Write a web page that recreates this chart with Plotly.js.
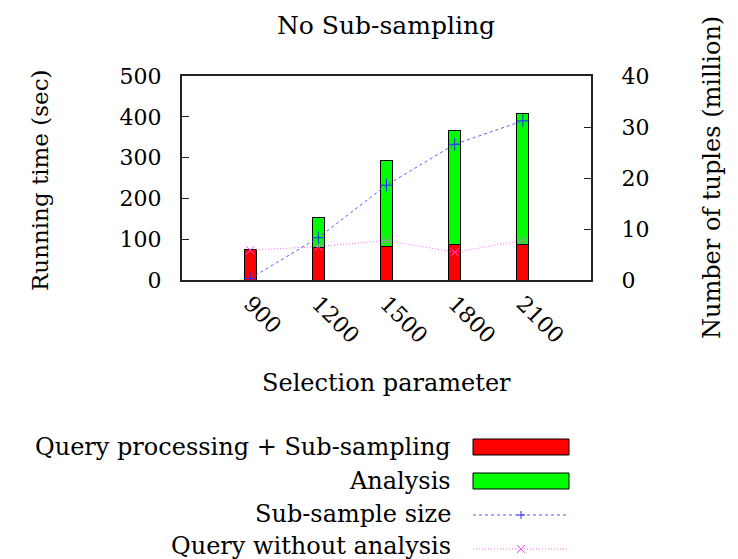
<!DOCTYPE html>
<html>
<head>
<meta charset="utf-8">
<script src="https://cdn.plot.ly/plotly-3.0.1.min.js"></script>
<style>html,body{margin:0;padding:0;background:#fff;}#chart{width:738px;height:559px;}</style>
</head>
<body>
<div id="chart"></div>
<script>
// ---- data ----
const categories = ["900", "1200", "1500", "1800", "2100"];
const queryProcessing = [75, 79, 83, 88, 88];       // sec (red)
const analysis = [0, 74, 211, 279, 320];             // sec (green, stacked)
const subSampleSize = [0.3, 8.3, 18.6, 26.6, 31.2];  // million tuples (right axis)
const queryWithoutAnalysis = [73, 82, 97, 68, 97];   // sec
const seriesNames = ["Query processing + Sub-sampling", "Analysis", "Sub-sample size", "Query without analysis"];

// ---- layout helpers ----
const W = 738, H = 559, L = 182, R = 591, T = 76, B = 280;
const fx = p => (p - L) / (R - L);
const fy = p => (B - p) / (B - T);
const FONT = "DejaVu Serif";
const FS = 22;   // digits
const FT = 25;   // title
const FA = 24;   // axis titles / legend

const traces = [
  {type: "bar", x: categories, y: queryProcessing, name: seriesNames[0], width: 0.18,
   marker: {color: "#ff0000", line: {color: "#000", width: 1}}, showlegend: false},
  {type: "bar", x: categories, y: analysis, name: seriesNames[1], width: 0.18,
   marker: {color: "#00ff00", line: {color: "#000", width: 1}}, showlegend: false},
  {type: "scatter", mode: "lines+markers", x: categories, y: subSampleSize, yaxis: "y2", name: seriesNames[2],
   line: {color: "rgb(90,90,255)", width: 1, dash: "3px,3px"},
   marker: {symbol: "cross-thin", size: 9, line: {color: "rgb(40,40,255)", width: 1}}, showlegend: false},
  {type: "scatter", mode: "lines+markers", x: categories, y: queryWithoutAnalysis, name: seriesNames[3],
   line: {color: "rgb(255,110,255)", width: 1, dash: "1px,2px"},
   marker: {symbol: "x-thin", size: 8, line: {color: "rgb(255,80,255)", width: 1}}, showlegend: false}
];

// legend drawn manually (text right-aligned, key on the right, like gnuplot)
const legRows = [447, 481, 514, 546];
const keyRows = [447, 481, 515, 549];
const keyL = 473, keyR = 569, txtR = 453;
const shapes = [
  {type: "rect", xref: "paper", yref: "paper", x0: fx(keyL), x1: fx(keyR), y0: fy(keyRows[0] + 8), y1: fy(keyRows[0] - 8),
   fillcolor: "#ff0000", line: {color: "#000", width: 1}},
  {type: "rect", xref: "paper", yref: "paper", x0: fx(keyL), x1: fx(keyR), y0: fy(keyRows[1] + 8), y1: fy(keyRows[1] - 8),
   fillcolor: "#00ff00", line: {color: "#000", width: 1}},
  {type: "line", xref: "paper", yref: "paper", x0: fx(keyL), x1: fx(keyR), y0: fy(keyRows[2]), y1: fy(keyRows[2]),
   line: {color: "rgb(90,90,255)", width: 1, dash: "3px,3px"}},
  {type: "line", xref: "paper", yref: "paper", x0: fx(keyL), x1: fx(keyR), y0: fy(keyRows[3]), y1: fy(keyRows[3]),
   line: {color: "rgb(255,110,255)", width: 1, dash: "1px,2px"}},
  // legend marker glyphs
  {type: "line", xref: "paper", yref: "paper", x0: fx(521 - 4), x1: fx(521 + 4), y0: fy(keyRows[2]), y1: fy(keyRows[2]),
   line: {color: "rgb(40,40,255)", width: 1}},
  {type: "line", xref: "paper", yref: "paper", x0: fx(521), x1: fx(521), y0: fy(keyRows[2] - 4), y1: fy(keyRows[2] + 4),
   line: {color: "rgb(40,40,255)", width: 1}},
  {type: "line", xref: "paper", yref: "paper", x0: fx(521 - 4), x1: fx(521 + 4), y0: fy(keyRows[3] - 4), y1: fy(keyRows[3] + 4),
   line: {color: "rgb(255,80,255)", width: 1}},
  {type: "line", xref: "paper", yref: "paper", x0: fx(521 - 4), x1: fx(521 + 4), y0: fy(keyRows[3] + 4), y1: fy(keyRows[3] - 4),
   line: {color: "rgb(255,80,255)", width: 1}}
];

const annotations = seriesNames.map((n, i) => ({
  text: n, xref: "paper", yref: "paper", x: fx(txtR), y: fy(legRows[i]),
  xanchor: "right", yanchor: "middle", showarrow: false, font: {family: FONT, size: FA, color: "#000"}
}));
annotations.push(
  {text: "Running time (sec)", textangle: -90, xref: "paper", yref: "paper", x: fx(40), y: fy(180),
   xanchor: "center", yanchor: "middle", showarrow: false, font: {family: FONT, size: 23, color: "#000"}},
  {text: "Number of tuples (million)", textangle: -90, xref: "paper", yref: "paper", x: fx(712), y: fy(178),
   xanchor: "center", yanchor: "middle", showarrow: false, font: {family: FONT, size: FA, color: "#000"}},
  {text: "Selection parameter", xref: "paper", yref: "paper", x: fx(386), y: fy(383),
   xanchor: "center", yanchor: "middle", showarrow: false, font: {family: FONT, size: FA, color: "#000"}}
);

const layout = {
  width: W, height: H,
  margin: {l: L, r: W - R, t: T, b: H - B, pad: 0},
  paper_bgcolor: "#fff", plot_bgcolor: "#fff",
  font: {family: FONT, size: FS, color: "#000"},
  title: {text: "No Sub-sampling", font: {family: FONT, size: FT, color: "#000"},
          x: fx(386), xref: "paper", xanchor: "center", y: 1 - 25 / H, yref: "container", yanchor: "middle"},
  barmode: "stack",
  showlegend: false,
  xaxis: {type: "category", range: [-1, 5], showgrid: false, zeroline: false,
          showline: true, linecolor: "#222", linewidth: 2, mirror: true, ticks: "",
          tickangle: 45, tickfont: {family: FONT, size: FS, color: "#000"}},
  yaxis: {range: [0, 500], dtick: 100, showgrid: false, zeroline: false,
          showline: true, linecolor: "#222", linewidth: 2, ticks: "inside", ticklen: 7, tickcolor: "#222",
          ticklabelstandoff: 14, tickfont: {family: FONT, size: FS, color: "#000"}},
  yaxis2: {range: [0, 40], dtick: 10, overlaying: "y", side: "right", showgrid: false, zeroline: false,
           showline: true, linecolor: "#222", linewidth: 2, ticks: "inside", ticklen: 7, tickcolor: "#222",
           ticklabelstandoff: 24, tickfont: {family: FONT, size: FS, color: "#000"}},
  shapes: shapes,
  annotations: annotations
};

Plotly.newPlot("chart", traces, layout, {displayModeBar: false, staticPlot: true});
</script>
</body>
</html>
